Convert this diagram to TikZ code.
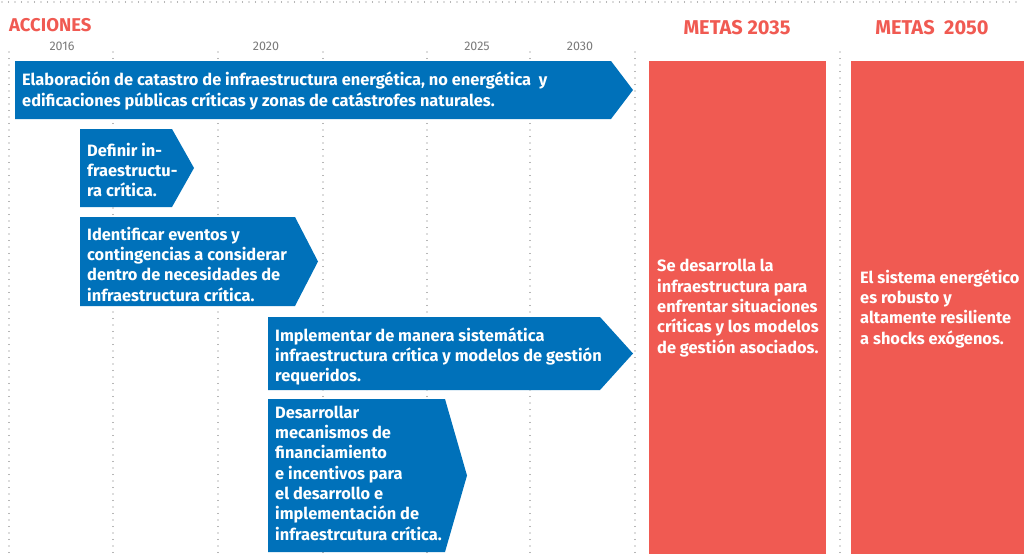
\documentclass[tikz,border=0pt]{standalone}
\usepackage{fontspec}
\setmainfont{Fira Sans}
\definecolor{cblue}{HTML}{0071BA}
\definecolor{cred}{HTML}{F05A52}
\definecolor{cgray}{HTML}{7A7A7A}
\definecolor{cdot}{HTML}{6E6E6E}
\tikzset{
  dotline/.style={draw=cdot, line width=1.3pt, line cap=round, dash pattern=on 0pt off 6.5pt},
  arrowshape/.style={fill=cblue},
  goalbox/.style={fill=cred},
  btxt/.style={anchor=base west, align=left, inner sep=0pt, text=white, font=\fontsize{16.4}{20.3}\selectfont\bfseries},
  year/.style={anchor=base, inner sep=0pt, text=cgray, font=\fontsize{12.5}{14}\selectfont},
  head/.style={anchor=base, inner sep=0pt, text=cred, font=\fontsize{20}{22}\selectfont\bfseries}
}
\begin{document}
\begin{tikzpicture}[x=1pt,y=-1pt]
\useasboundingbox (0,0) rectangle (1024,554);
% top dotted line
\draw[dotline] (2,2) -- (1022,2);
% headings
\node[head, anchor=base west, font=\fontsize{18.5}{22}\selectfont\bfseries] (acc) at (9,31) {ACCIONES};
\node[head] (m35) at (737,34.5) {METAS 2035};
\node[head] (m50) at (932,34.5) {METAS \ 2050};
% years
\node[year] (y16) at (62,50.5) {2016};
\node[year] (y20) at (266,50.5) {2020};
\node[year] (y25) at (477,50.5) {2025};
\node[year] (y30) at (580,50.5) {2030};
% vertical dotted lines
\foreach \xx in {9,113,218,323,427,530,635,840}
  \draw[dotline] (\xx,52) -- (\xx,554);
% goal boxes
\fill[goalbox] (649,61) rectangle (826,554);
\fill[goalbox] (851,61) rectangle (1024,554);
% arrows
\fill[arrowshape] (15,61) -- (611,61) -- (633,90) -- (611,119) -- (15,119) -- cycle;
\fill[arrowshape] (80,129) -- (172,129) -- (194,168) -- (172,207) -- (80,207) -- cycle;
\fill[arrowshape] (80,217) -- (295,217) -- (318,261.5) -- (295,306) -- (80,306) -- cycle;
\fill[arrowshape] (268,317) -- (600,317) -- (633,353.5) -- (600,390) -- (268,390) -- cycle;
\fill[arrowshape] (268,399) -- (445,399) -- (467,475.5) -- (445,552) -- (268,552) -- cycle;
% texts (anchored at the baseline of their last line)
\node[btxt] (t1) at (22,106) {Elaboración de catastro de infraestructura energética, no energética \ y\\edificaciones públicas críticas y zonas de catástrofes naturales.};
\node[btxt] (t2) at (87,196.6) {Definir in-\\fraestructu-\\ra crítica.};
\node[btxt] (t3) at (87,301) {Identificar eventos y\\contingencias a considerar\\dentro de necesidades de\\infraestructura crítica.};
\node[btxt] (t4) at (275,381.6) {Implementar de manera sistemática\\infraestructura crítica y modelos de gestión\\requeridos.};
\node[btxt] (t5) at (275,540) {Desarrollar\\mecanismos de\\financiamiento\\e incentivos para\\el desarrollo e\\implementación de\\infraestrcutura crítica.};
\node[btxt] (g1) at (657,353) {Se desarrolla la\\infraestructura para\\enfrentar situaciones\\críticas y los modelos\\de gestión asociados.};
\node[btxt] (g2) at (860,344) {El sistema energético\\es robusto y\\altamente resiliente\\a shocks exógenos.};
\end{tikzpicture}
\end{document}
